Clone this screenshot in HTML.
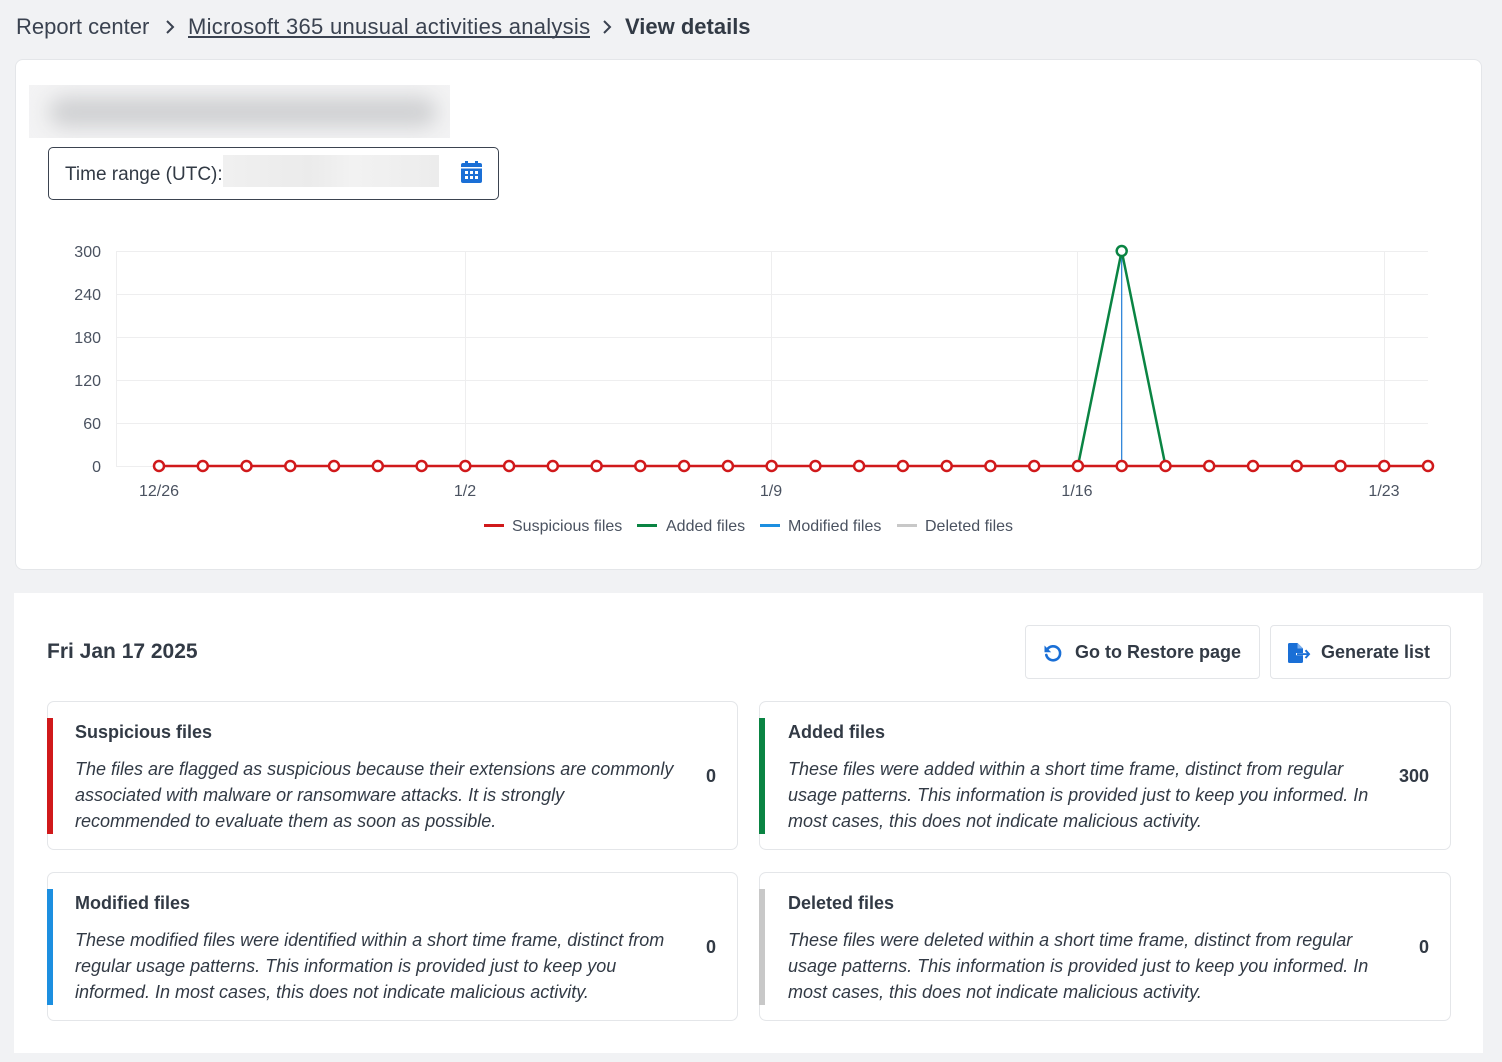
<!DOCTYPE html>
<html>
<head>
<meta charset="utf-8">
<style>
  html,body{margin:0;padding:0;}
  body{width:1502px;height:1062px;background:#f1f2f4;position:relative;overflow:hidden;
       font-family:"Liberation Sans",Arial,sans-serif;color:#323a45;}
  .abs{position:absolute;}
  .crumb{position:absolute;top:13px;font-size:22px;line-height:28px;white-space:nowrap;color:#3a4250;}
  .card{position:absolute;background:#fff;border:1px solid #e4e6e9;border-radius:7px;box-sizing:border-box;}
  .bar{position:absolute;left:-1px;top:16px;width:6px;height:116px;}
  .ctitle{position:absolute;left:27px;top:17px;font-size:18px;font-weight:bold;line-height:26px;white-space:nowrap;color:#323a45;}
  .cbody{position:absolute;left:27px;top:54px;font-size:18px;font-style:italic;line-height:26px;white-space:nowrap;color:#323a45;}
  .num{position:absolute;right:21px;top:61px;font-size:18px;font-weight:bold;line-height:26px;color:#323a45;}
  .btn{position:absolute;top:625px;height:54px;background:#fff;border:1px solid #e3e5e8;border-radius:4px;box-sizing:border-box;}
  .btn span{position:absolute;top:13px;font-size:18px;font-weight:bold;line-height:26px;white-space:nowrap;color:#323a45;}
</style>
</head>
<body>

<!-- Breadcrumb -->
<div class="crumb" style="left:16px;">Report center</div>
<svg class="abs" style="left:0;top:0" width="700" height="50">
  <polyline points="167,21 173,27 167,33" fill="none" stroke="#3a4250" stroke-width="2"/>
  <polyline points="604,21 610,27 604,33" fill="none" stroke="#3a4250" stroke-width="2"/>
  <rect x="188" y="36" width="402" height="2" fill="#3a4250"/>
</svg>
<div class="crumb" style="left:188px;letter-spacing:0.27px;">Microsoft 365 unusual activities analysis</div>
<div class="crumb" style="left:625px;font-weight:bold;color:#323a45;">View details</div>

<!-- Top card -->
<div class="card" style="left:15px;top:59px;width:1467px;height:511px;border-radius:8px;"></div>

<!-- blurred title -->
<div class="abs" style="left:29px;top:85px;width:421px;height:53px;background:#f3f3f4;overflow:hidden;">
  <div class="abs" style="left:20px;top:12px;width:388px;height:30px;background:#cfd0d2;border-radius:15px;filter:blur(10px);"></div>
</div>

<!-- time range -->
<div class="abs" style="left:48px;top:147px;width:451px;height:53px;border:1px solid #3b4350;border-radius:5px;box-sizing:border-box;background:#fff;">
  <div class="abs" style="left:16px;top:14px;font-size:19px;line-height:26px;white-space:nowrap;color:#323a45;">Time range (UTC):</div>
  <div class="abs" style="left:174px;top:7px;width:216px;height:32px;background:linear-gradient(90deg,#f0f0f0,#ebebeb 40%,#f2f2f2 60%,#ececec);"></div>
</div>
<svg class="abs" style="left:461px;top:161px" width="21" height="22" viewBox="0 0 21 22">
  <rect x="4" y="0" width="3" height="4" fill="#1a6fd6"/>
  <rect x="14" y="0" width="3" height="4" fill="#1a6fd6"/>
  <rect x="0" y="2" width="21" height="20" rx="2" fill="#1a6fd6"/>
  <rect x="0" y="6" width="21" height="1.5" fill="#fff"/>
  <rect x="4" y="10" width="3" height="3" fill="#fff"/><rect x="9" y="10" width="3" height="3" fill="#fff"/><rect x="14" y="10" width="3" height="3" fill="#fff"/>
  <rect x="4" y="15" width="3" height="3" fill="#fff"/><rect x="9" y="15" width="3" height="3" fill="#fff"/><rect x="14" y="15" width="3" height="3" fill="#fff"/>
</svg>

<!-- Chart -->
<svg class="abs" style="left:0;top:0" width="1502" height="600" font-family="Liberation Sans, Arial, sans-serif">
  <g stroke="#eeeeef" stroke-width="1">
    <line x1="116" y1="251.5" x2="1428" y2="251.5"/>
    <line x1="116" y1="294.5" x2="1428" y2="294.5"/>
    <line x1="116" y1="337.5" x2="1428" y2="337.5"/>
    <line x1="116" y1="380.5" x2="1428" y2="380.5"/>
    <line x1="116" y1="423.5" x2="1428" y2="423.5"/>
    <line x1="116" y1="466.5" x2="1428" y2="466.5"/>
    <line x1="116.5" y1="251" x2="116.5" y2="466"/>
    <line x1="465.5" y1="251" x2="465.5" y2="466"/>
    <line x1="771.5" y1="251" x2="771.5" y2="466"/>
    <line x1="1077.5" y1="251" x2="1077.5" y2="466"/>
    <line x1="1384.5" y1="251" x2="1384.5" y2="466"/>
  </g>
  <g font-size="16" fill="#4a5260" text-anchor="end">
    <text x="101" y="257">300</text>
    <text x="101" y="300">240</text>
    <text x="101" y="343">180</text>
    <text x="101" y="386">120</text>
    <text x="101" y="429">60</text>
    <text x="101" y="472">0</text>
  </g>
  <g font-size="16" fill="#4a5260" text-anchor="middle">
    <text x="159" y="496">12/26</text>
    <text x="465" y="496">1/2</text>
    <text x="771" y="496">1/9</text>
    <text x="1077" y="496">1/16</text>
    <text x="1384" y="496">1/23</text>
  </g>
  <!-- axis pointer -->
  <line x1="1121.7" y1="257" x2="1121.7" y2="466" stroke="#1e7bd6" stroke-width="1.2"/>
  <!-- green -->
  <polyline points="1077.9,466 1121.7,251 1165.5,466" fill="none" stroke="#0a8443" stroke-width="2.5" stroke-linejoin="round"/>
  <circle cx="1121.7" cy="251" r="5" fill="#fff" stroke="#0a8443" stroke-width="2.5"/>
  <!-- red -->
  <line x1="159" y1="466" x2="1428" y2="466" stroke="#d0191b" stroke-width="2.5"/>
  <g fill="#fff" stroke="#d0191b" stroke-width="2.5">
    <circle cx="159.0" cy="466" r="5"/><circle cx="202.8" cy="466" r="5"/><circle cx="246.5" cy="466" r="5"/>
    <circle cx="290.3" cy="466" r="5"/><circle cx="334.0" cy="466" r="5"/><circle cx="377.8" cy="466" r="5"/>
    <circle cx="421.6" cy="466" r="5"/><circle cx="465.3" cy="466" r="5"/><circle cx="509.1" cy="466" r="5"/>
    <circle cx="552.8" cy="466" r="5"/><circle cx="596.6" cy="466" r="5"/><circle cx="640.3" cy="466" r="5"/>
    <circle cx="684.1" cy="466" r="5"/><circle cx="727.9" cy="466" r="5"/><circle cx="771.6" cy="466" r="5"/>
    <circle cx="815.4" cy="466" r="5"/><circle cx="859.1" cy="466" r="5"/><circle cx="902.9" cy="466" r="5"/>
    <circle cx="946.7" cy="466" r="5"/><circle cx="990.4" cy="466" r="5"/><circle cx="1034.2" cy="466" r="5"/>
    <circle cx="1077.9" cy="466" r="5"/><circle cx="1121.7" cy="466" r="5"/><circle cx="1165.5" cy="466" r="5"/>
    <circle cx="1209.2" cy="466" r="5"/><circle cx="1253.0" cy="466" r="5"/><circle cx="1296.7" cy="466" r="5"/>
    <circle cx="1340.5" cy="466" r="5"/><circle cx="1384.2" cy="466" r="5"/><circle cx="1428.0" cy="466" r="5"/>
  </g>
  <!-- legend -->
  <rect x="484" y="524" width="20" height="3" fill="#d0191b"/>
  <rect x="637" y="524" width="20" height="3" fill="#0a8443"/>
  <rect x="760" y="524" width="20" height="3" fill="#1c8fe0"/>
  <rect x="897" y="524" width="20" height="3" fill="#c8c8c8"/>
  <g font-size="16" fill="#4a5260">
    <text x="512" y="531">Suspicious files</text>
    <text x="666" y="531">Added files</text>
    <text x="788" y="531">Modified files</text>
    <text x="925" y="531">Deleted files</text>
  </g>
</svg>

<!-- Bottom panel -->
<div class="abs" style="left:14px;top:593px;width:1469px;height:460px;background:#fff;"></div>
<div class="abs" style="left:47px;top:638px;font-size:21px;font-weight:bold;line-height:28px;white-space:nowrap;color:#323a45;">Fri Jan 17 2025</div>

<div class="btn" style="left:1025px;width:235px;">
  <svg class="abs" style="left:17px;top:17px" width="20" height="20" viewBox="0 0 20 20">
    <path d="M4.2 6.5 A7 7 0 1 1 3.3 12" fill="none" stroke="#1a6fd6" stroke-width="2.6" stroke-linecap="round"/>
    <polygon points="1.5,2.5 1.5,9.2 8.2,9.2" fill="#1a6fd6"/>
  </svg>
  <span style="left:49px;">Go to Restore page</span>
</div>
<div class="btn" style="left:1270px;width:181px;">
  <svg class="abs" style="left:17px;top:17px" width="24" height="20" viewBox="0 0 24 20">
    <path d="M0 1.5 Q0 0 1.5 0 H9.5 L15 5.5 V18.5 Q15 20 13.5 20 H1.5 Q0 20 0 18.5 Z" fill="#1a6fd6"/>
    <path d="M9.5 0 V5.5 H15" fill="#7fb0ec"/>
    <rect x="8" y="10" width="12" height="2.2" fill="#fff"/>
    <rect x="9" y="10.2" width="11" height="1.8" fill="#1a6fd6"/>
    <polyline points="17.5,7.2 21,11.1 17.5,15" fill="none" stroke="#1a6fd6" stroke-width="2"/>
  </svg>
  <span style="left:50px;">Generate list</span>
</div>

<!-- Cards -->
<div class="card" style="left:47px;top:701px;width:691px;height:149px;">
  <div class="bar" style="background:#d0191b;"></div>
  <div class="ctitle">Suspicious files</div>
  <div class="cbody">The files are flagged as suspicious because their extensions are commonly<br>associated with malware or ransomware attacks. It is strongly<br>recommended to evaluate them as soon as possible.</div>
  <div class="num">0</div>
</div>
<div class="card" style="left:759px;top:701px;width:692px;height:149px;">
  <div class="bar" style="background:#0a8443;"></div>
  <div class="ctitle" style="left:28px;">Added files</div>
  <div class="cbody" style="left:28px;">These files were added within a short time frame, distinct from regular<br>usage patterns. This information is provided just to keep you informed. In<br>most cases, this does not indicate malicious activity.</div>
  <div class="num">300</div>
</div>
<div class="card" style="left:47px;top:872px;width:691px;height:149px;">
  <div class="bar" style="background:#1c8fe0;"></div>
  <div class="ctitle">Modified files</div>
  <div class="cbody">These modified files were identified within a short time frame, distinct from<br>regular usage patterns. This information is provided just to keep you<br>informed. In most cases, this does not indicate malicious activity.</div>
  <div class="num">0</div>
</div>
<div class="card" style="left:759px;top:872px;width:692px;height:149px;">
  <div class="bar" style="background:#c8c8c8;"></div>
  <div class="ctitle" style="left:28px;">Deleted files</div>
  <div class="cbody" style="left:28px;">These files were deleted within a short time frame, distinct from regular<br>usage patterns. This information is provided just to keep you informed. In<br>most cases, this does not indicate malicious activity.</div>
  <div class="num">0</div>
</div>

</body>
</html>
